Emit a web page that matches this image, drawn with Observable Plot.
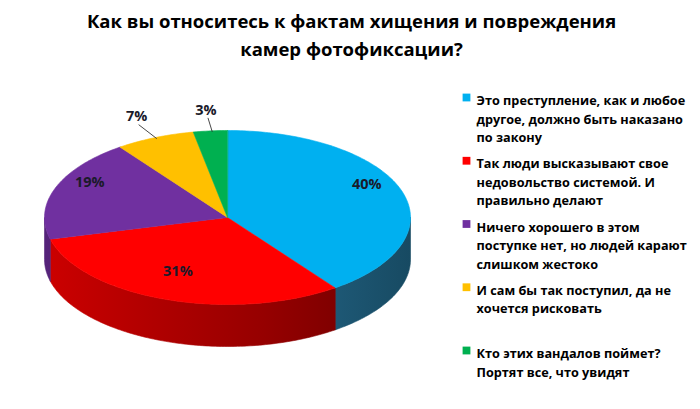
<!DOCTYPE html>
<html>
<head>
<meta charset="utf-8">
<script src="https://cdn.jsdelivr.net/npm/d3@7"></script>
<script src="https://cdn.jsdelivr.net/npm/@observablehq/plot@0.6"></script>
<style>
  html, body { margin: 0; padding: 0; background: #fff; }
  svg { display: block; }
</style>
</head>
<body>
<div id="chart"></div>
<script>
const titleLines = ["Как вы относитесь к фактам хищения и повреждения", "камер фотофиксации?"];
const categories = [
  "Это преступление, как и любое\nдругое, должно быть наказано\nпо закону",
  "Так люди высказывают свое\nнедовольство системой. И\nправильно делают",
  "Ничего хорошего в этом\nпоступке нет, но людей карают\nслишком жестоко",
  "И сам бы так поступил, да не\nхочется рисковать",
  "Кто этих вандалов поймет?\nПортят все, что увидят"
];
const values = [40, 31, 19, 7, 3];
const labels = ["40%", "31%", "19%", "7%", "3%"];
const colors = ["#00B0F0", "#FF0000", "#7030A0", "#FFC000", "#00B050"];
const sideIds = ["sideBlue", "sideRed", "sidePurple", "sideYellow", "sideGreen"];

// layout
const W = 700, H = 409;
const cx = 227, cy = 217, rx = 183, ry = 87, depth = 42;
const font = "Open Sans, sans-serif";

const arcs = d3.pie().sort(null).value(d => d)(values);
const P = (a, dz = 0, k = 1) => [cx + k * rx * Math.sin(a), cy - k * ry * Math.cos(a) + dz];
function arcPts(a0, a1, dz = 0) {
  const n = Math.max(2, Math.ceil(Math.abs(a1 - a0) / (Math.PI / 180)));
  return d3.range(n + 1).map(i => P(a0 + (a1 - a0) * i / n, dz));
}

// top faces
const tops = arcs.map((a, i) => ({i, pts: [[cx, cy], ...arcPts(a.startAngle, a.endAngle)]}));
// visible walls (front half)
const walls = arcs.map((a, i) => {
  const a0 = Math.max(a.startAngle, Math.PI / 2), a1 = Math.min(a.endAngle, 3 * Math.PI / 2);
  if (a1 <= a0) return null;
  return {i, pts: [...arcPts(a0, a1), ...arcPts(a1, a0, depth)]};
}).filter(d => d);

// labels
const labelData = arcs.map((a, i) => {
  const m = (a.startAngle + a.endAngle) / 2;
  const inside = values[i] >= 10;
  if (inside) {
    return {i, x: cx + 0.8 * rx * Math.sin(m), y: cy - 12 - 0.8 * ry * Math.cos(m), inside};
  }
  const e = P(m);
  return {i, x: cx + 1.25 * (e[0] - cx), y: e[1] - 21, ex: e[0] + 2, ey: e[1] + 1, inside};
});
const leaders = labelData.filter(d => !d.inside).map(d => ({x1: d.ex, y1: d.ey, x2: d.x + 2, y2: d.y + 8}));

// legend
const legendY = d3.scalePoint().domain(d3.range(categories.length)).range([97, 350]);
const legend = categories.map((c, i) => ({i, text: c, y: legendY(i)}));

const marks = [];
walls.forEach(w => marks.push(Plot.line(w.pts, {x: d => d[0], y: d => d[1], curve: "linear-closed",
  fill: `url(#${sideIds[w.i]})`, stroke: `url(#${sideIds[w.i]})`, strokeWidth: 0.6})));
tops.forEach(t => marks.push(Plot.line(t.pts, {x: d => d[0], y: d => d[1], curve: "linear-closed",
  fill: colors[t.i], stroke: colors[t.i], strokeWidth: 0.6})));
marks.push(
  Plot.link(leaders, {x1: "x1", y1: "y1", x2: "x2", y2: "y2", stroke: "#333", strokeWidth: 0.9}),
  Plot.text(labelData, {x: "x", y: "y", text: d => labels[d.i], fontSize: 14.5, fontWeight: "bold",
    fill: "#1a1a2a", fontFamily: font}),
  Plot.text(titleLines, {x: 351, y: (d, i) => 22 + i * 28, text: d => d, fontSize: 18.5, fontWeight: "bold",
    fill: "#000", fontFamily: font}),
  Plot.dot(legend, {x: 466, y: "y", symbol: "square", r: 4.4, fill: d => colors[d.i], stroke: null}),
  Plot.text(legend, {x: 476, y: d => d.y - 5.5, text: "text", textAnchor: "start", lineAnchor: "top",
    lineHeight: 1.46, fontSize: 12.7, fontWeight: "bold", fill: "#000", fontFamily: font})
);

const svg = Plot.plot({
  width: W, height: H, margin: 0,
  x: {domain: [0, W], range: [0, W], axis: null},
  y: {domain: [0, H], range: [0, H], axis: null},
  style: {background: "#fff", overflow: "visible"},
  marks
});

// gradients for the side walls
const defs = d3.select(svg).insert("defs", ":first-child");
const grad = (id, stops) => {
  const g = defs.append("linearGradient").attr("id", id).attr("gradientUnits", "userSpaceOnUse")
    .attr("x1", cx - rx).attr("x2", cx + rx).attr("y1", 0).attr("y2", 0);
  stops.forEach(([o, c]) => g.append("stop").attr("offset", o).attr("stop-color", c));
};
grad("sideRed", [[0, "#CC0000"], [0.3, "#B00000"], [0.6, "#960000"], [0.85, "#7A0000"], [1, "#700000"]]);
grad("sideBlue", [[0, "#1F5B79"], [0.75, "#1F5B79"], [1, "#174A62"]]);
grad("sidePurple", [[0, "#55237A"], [1, "#4A1E6B"]]);
grad("sideYellow", [[0, "#C09000"], [1, "#A07800"]]);
grad("sideGreen", [[0, "#00853C"], [1, "#006F32"]]);

document.getElementById("chart").append(svg);
</script>
</body>
</html>
